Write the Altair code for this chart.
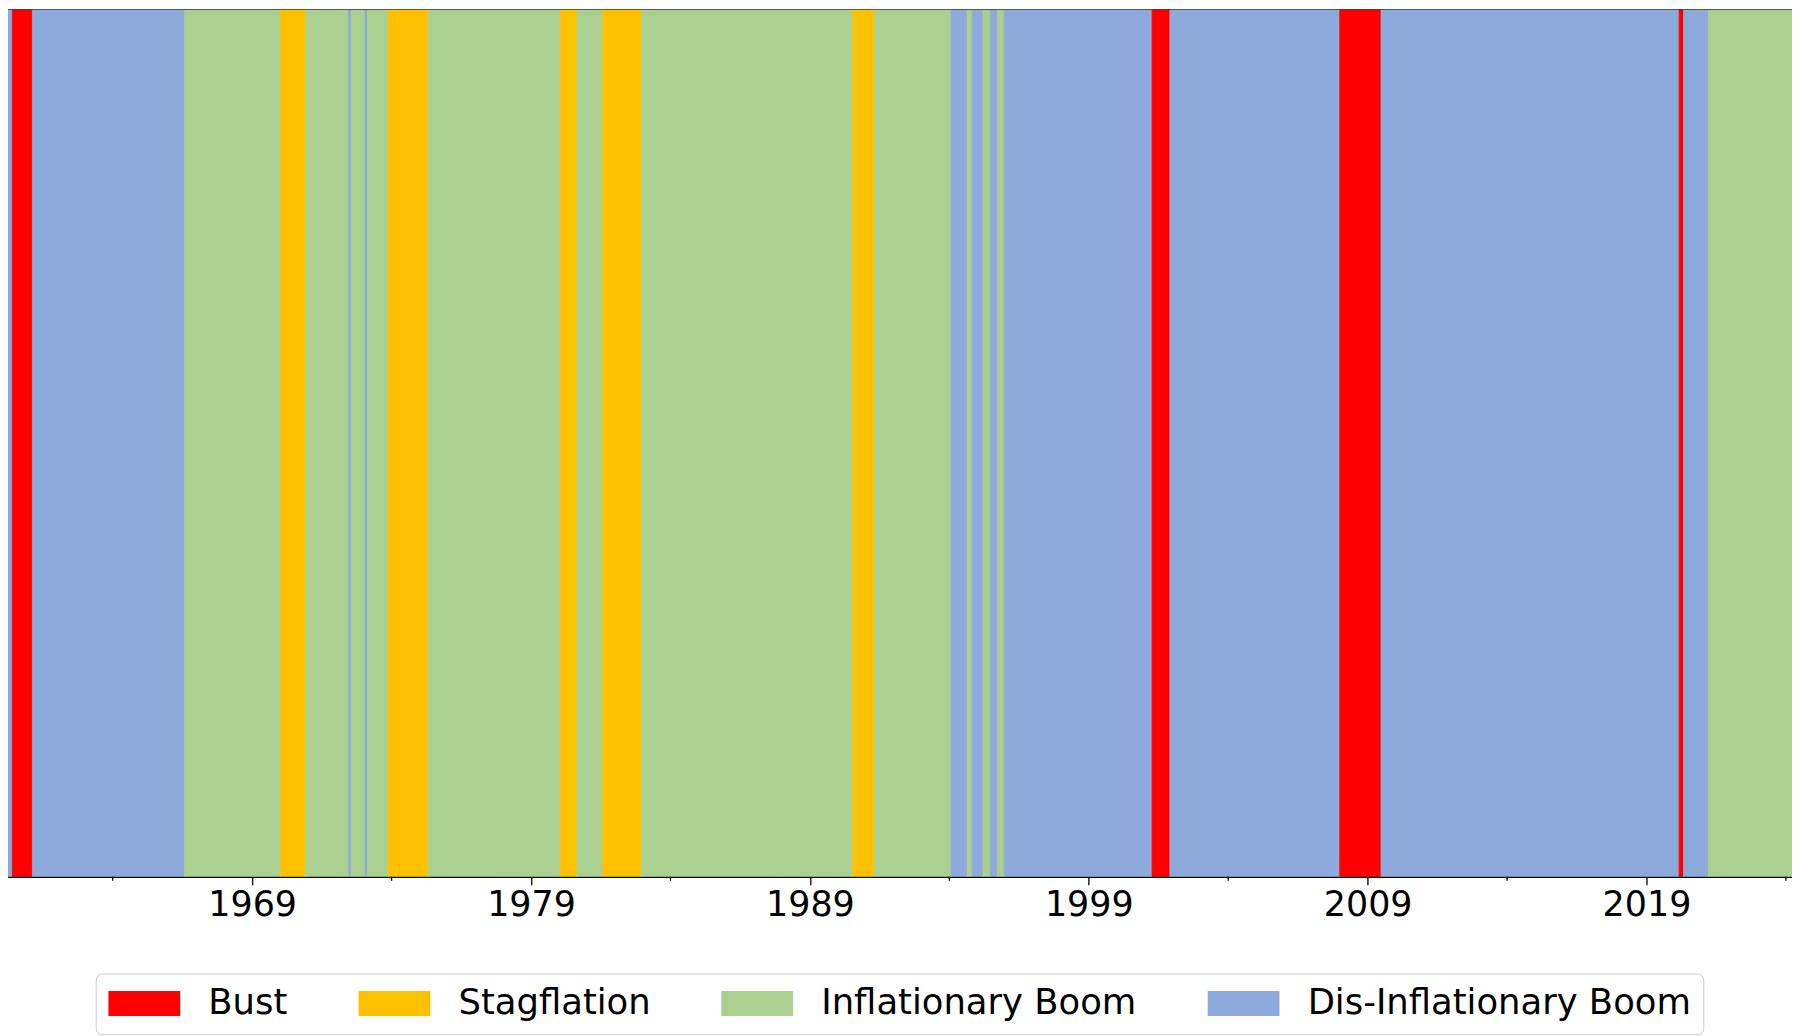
import altair as alt
import pandas as pd

# Regime names and colours
regimes = ["Bust", "Stagflation", "Inflationary Boom", "Dis-Inflationary Boom"]
regime_colors = ["#FF0000", "#FFC000", "#A9D08E", "#8EA9DB"]

# Regime periods (decimal years)
seg_start = [1960.00, 1960.40, 1961.12, 1966.58, 1970.02, 1970.92, 1972.46, 1972.55,
             1973.05, 1973.14, 1973.88, 1975.31, 1980.05, 1980.65, 1981.57, 1982.96,
             1990.54, 1991.32, 1994.06, 1994.64, 1994.82, 1995.21, 1995.47, 1995.73,
             1995.97, 2001.27, 2001.91, 2008.00, 2009.48, 2020.17, 2020.33, 2021.22]
seg_end = [1960.40, 1961.12, 1966.58, 1970.02, 1970.92, 1972.46, 1972.55, 1973.05,
           1973.14, 1973.88, 1975.31, 1980.05, 1980.65, 1981.57, 1982.96, 1990.54,
           1991.32, 1994.06, 1994.64, 1994.82, 1995.21, 1995.47, 1995.73, 1995.97,
           2001.27, 2001.91, 2008.00, 2009.48, 2020.17, 2020.33, 2021.22, 2024.30]
seg_regime = ["Dis-Inflationary Boom", "Bust", "Dis-Inflationary Boom", "Inflationary Boom",
              "Stagflation", "Inflationary Boom", "Dis-Inflationary Boom", "Inflationary Boom",
              "Dis-Inflationary Boom", "Inflationary Boom", "Stagflation", "Inflationary Boom",
              "Stagflation", "Inflationary Boom", "Stagflation", "Inflationary Boom",
              "Stagflation", "Inflationary Boom", "Dis-Inflationary Boom", "Inflationary Boom",
              "Dis-Inflationary Boom", "Inflationary Boom", "Dis-Inflationary Boom", "Inflationary Boom",
              "Dis-Inflationary Boom", "Bust", "Dis-Inflationary Boom", "Bust",
              "Dis-Inflationary Boom", "Bust", "Dis-Inflationary Boom", "Inflationary Boom"]

# Axis ticks
major_ticks = [1969, 1979, 1989, 1999, 2009, 2019]
minor_ticks = [1964, 1974, 1984, 1994, 2004, 2014, 2024]
x_domain = [1960.244, 2024.218]

segments = pd.DataFrame({"start": seg_start, "end": seg_end, "regime": seg_regime})
minor_df = pd.DataFrame({"start": minor_ticks})

FONT = "DejaVu Sans"
W, H = 1790, 870

x_scale = alt.Scale(domain=x_domain, nice=False, zero=False)
x_axis = alt.Axis(values=major_ticks, format="d", title=None, grid=False,
                  labelFont=FONT, labelFontSize=35, labelColor="black",
                  tickColor="black", tickSize=8, tickWidth=1.3,
                  domainColor="black", domainWidth=1.3, labelPadding=3,
                  labelFlush=False, labelOverlap=False)
color_scale = alt.Scale(domain=regimes, range=regime_colors)

# wide legend patch: 72 x 25 px drawn inside a 34 px layout box
legend = alt.Legend(
    title=None, orient="none", legendX=88, legendY=967, direction="horizontal",
    symbolType="M-1,-0.735L3.235,-0.735L3.235,0.735L-1,0.735Z", symbolSize=1156,
    symbolStrokeWidth=0, symbolOpacity=1,
    labelFont=FONT, labelFontSize=35.5, labelColor="black", labelLimit=0,
    labelOffset=65.5, columnPadding=70, padding=12,
    strokeColor="#cccccc", fillColor="white", cornerRadius=6,
)

bands = alt.Chart(segments).mark_rect(clip=True, strokeWidth=0.8).encode(
    x=alt.X("start:Q", scale=x_scale, axis=x_axis),
    x2="end:Q",
    color=alt.Color("regime:N", scale=color_scale, legend=legend, sort=regimes),
    stroke=alt.Stroke("regime:N", scale=color_scale, legend=None),
)

minor = alt.Chart(minor_df).mark_rule(clip=False, color="black", strokeWidth=1.3).encode(
    x=alt.X("start:Q", scale=x_scale, axis=x_axis),
    y=alt.value(H),
    y2=alt.value(H + 4),
)

chart = alt.layer(bands, minor).properties(
    width=W, height=H, padding=0
).configure_view(stroke="black", strokeWidth=1.3)

chart.save("out.html", embed_options={"renderer": "svg", "actions": False})
